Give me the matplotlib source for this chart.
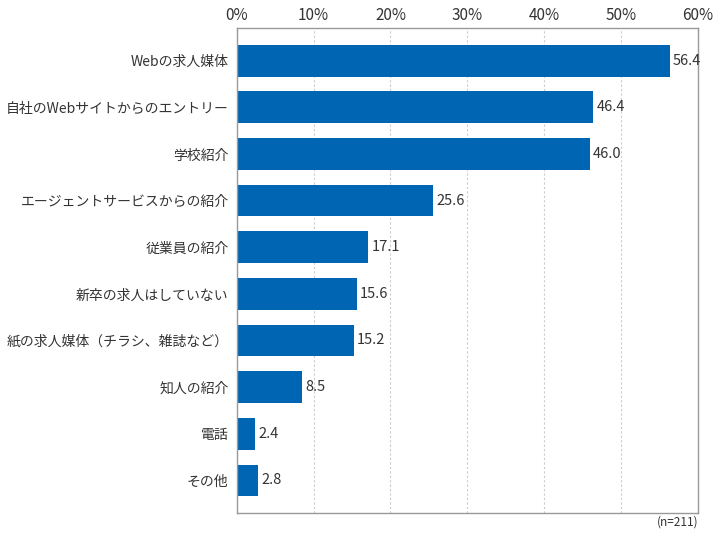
import matplotlib
matplotlib.use('Agg')
import matplotlib.pyplot as plt
from matplotlib.ticker import PercentFormatter

plt.rcParams['font.family'] = ['Noto Sans CJK JP', 'DejaVu Sans']

categories = ['Webの求人媒体', '自社のWebサイトからのエントリー', '学校紹介',
              'エージェントサービスからの紹介', '従業員の紹介', '新卒の求人はしていない',
              '紙の求人媒体（チラシ、雑誌など）', '知人の紹介', '電話', 'その他']
values = [56.4, 46.4, 46.0, 25.6, 17.1, 15.6, 15.2, 8.5, 2.4, 2.8]
xticks = [0, 10, 20, 30, 40, 50, 60]

fig = plt.figure(figsize=(7.2, 5.4), dpi=100)
ax = fig.add_axes([0.329, 0.05, 0.64, 0.898])

pos = list(range(len(categories)))
ax.barh(pos, values, height=0.68, color='#0066b3', zorder=2)
for p, v in zip(pos, values):
    ax.text(v + 0.4, p, f'{v:.1f}', va='center', ha='left', fontsize=10.5, color='#333333')

ax.set_xlim(0, 60)
ax.set_ylim(9.7, -0.7)
ax.set_yticks(pos)
ax.set_yticklabels(categories, fontsize=10, color='#333333')
ax.set_xticks(xticks)
ax.xaxis.set_major_formatter(PercentFormatter(decimals=0))
ax.xaxis.tick_top()
ax.tick_params(axis='x', length=0, labelsize=11, labelcolor='#333333', pad=3)
ax.tick_params(axis='y', length=0, pad=6)
ax.grid(axis='x', linestyle=(0, (2, 2)), color='#cccccc', linewidth=0.8, zorder=0)
for s in ax.spines.values():
    s.set_color('#999999')
    s.set_linewidth(1)

fig.text(0.97, 0.033, '(n=211)', ha='right', va='center', fontsize=8.5, color='#333333')

fig.savefig('out.png', dpi=100)
